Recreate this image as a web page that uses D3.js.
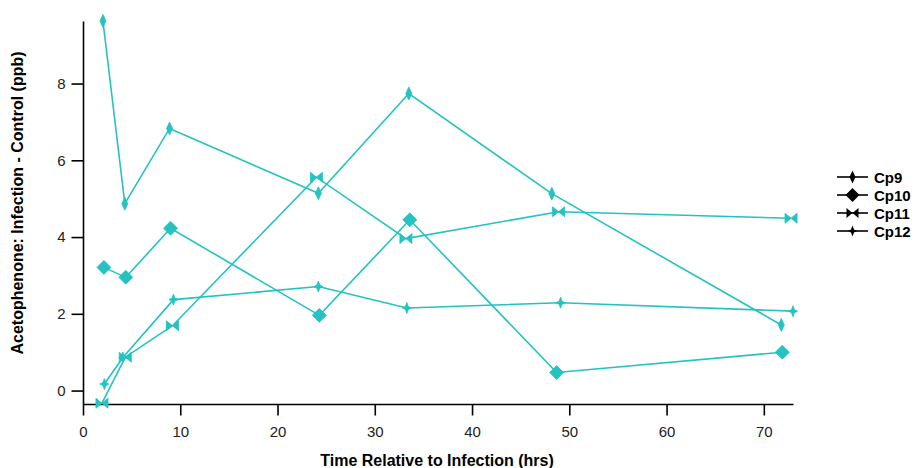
<!DOCTYPE html>
<html>
<head>
<meta charset="utf-8">
<script src="https://cdn.jsdelivr.net/npm/d3@7.9.0/dist/d3.min.js"></script>
<style>
  body { margin: 0; background: #fff; }
  svg { font-family: "Liberation Sans", Arial, sans-serif; }
</style>
</head>
<body>
<svg id="chart" width="917" height="468"></svg>
<script>
// data
const seriesNames = ['Cp9', 'Cp10', 'Cp11', 'Cp12'];
const cp9x = [2.05, 4.3, 8.9, 24.2, 33.5, 48.2, 71.8];
const cp9y = [9.63, 4.87, 6.83, 5.14, 7.74, 5.13, 1.71];
const cp10x = [2.15, 4.4, 9.0, 24.3, 33.6, 48.7, 71.9];
const cp10y = [3.21, 2.95, 4.23, 1.96, 4.45, 0.47, 1.0];
const cp11x = [1.95, 4.35, 9.2, 24.0, 33.2, 48.9, 72.8];
const cp11y = [-0.33, 0.87, 1.69, 5.56, 3.96, 4.66, 4.49];
const cp12x = [2.2, 4.1, 9.3, 24.2, 33.3, 49.1, 73.0];
const cp12y = [0.17, 0.86, 2.37, 2.71, 2.15, 2.29, 2.07];
const xTicks = [0, 10, 20, 30, 40, 50, 60, 70];
const yTicks = [0, 2, 4, 6, 8];

const teal = '#22c3c0';

// marker shapes (centered at 0,0)
const shapes = {
  Cp9: 'M0,-6.5 L3,0 L0,6.5 L-3,0 Z',
  Cp10: 'M0,-7 L7,0 L0,7 L-7,0 Z',
  Cp11: 'M-6,-5 L0,0 L-6,5 Z M6,-5 L0,0 L6,5 Z',
  Cp12: 'M0,-5.5 L1.5,-1.5 L4.5,0 L1.5,1.5 L0,5.5 L-1.5,1.5 L-4.5,0 L-1.5,-1.5 Z'
};

const series = [
  { name: 'Cp9', xs: cp9x, ys: cp9y },
  { name: 'Cp10', xs: cp10x, ys: cp10y },
  { name: 'Cp11', xs: cp11x, ys: cp11y },
  { name: 'Cp12', xs: cp12x, ys: cp12y }
];

const svg = d3.select('#chart');
const mLeft = 83, mRight = 793, mTop = 21, mBottom = 404;

const x = d3.scaleLinear().domain([0, 73]).range([mLeft, mRight]);
const y = d3.scaleLinear().domain([-0.35, 9.63]).range([mBottom, mTop]);

// axes
const xAxis = svg.append('g')
  .attr('transform', `translate(0,${mBottom})`)
  .call(d3.axisBottom(x).tickValues(xTicks).tickSize(11.5).tickPadding(11).tickSizeOuter(0));
const yAxis = svg.append('g')
  .attr('transform', `translate(${mLeft},0)`)
  .call(d3.axisLeft(y).tickValues(yTicks).tickSize(11.5).tickPadding(6).tickSizeOuter(0));

[xAxis, yAxis].forEach(a => {
  a.select('.domain').attr('stroke', '#000').attr('stroke-width', 1.6);
  a.selectAll('.tick line').attr('stroke', '#000').attr('stroke-width', 1.6);
  a.selectAll('.tick text').attr('fill', '#222').style('font-size', '15px')
    .style('font-family', '"Liberation Sans", Arial, sans-serif');
});

// labels
svg.append('text')
  .attr('x', 437).attr('y', 466)
  .attr('text-anchor', 'middle')
  .style('font-size', '16px').style('font-weight', 'bold')
  .text('Time Relative to Infection (hrs)');

svg.append('text')
  .attr('transform', 'translate(23,203) rotate(-90)')
  .attr('text-anchor', 'middle')
  .style('font-size', '16px').style('font-weight', 'bold')
  .text('Acetophenone: Infection - Control (ppb)');

// lines + markers
const line = d3.line().x(d => x(d[0])).y(d => y(d[1]));

series.forEach(s => {
  const pts = s.xs.map((v, i) => [v, s.ys[i]]);
  svg.append('path')
    .datum(pts)
    .attr('d', line)
    .attr('fill', 'none')
    .attr('stroke', teal)
    .attr('stroke-width', 1.6);

  svg.append('g').selectAll('path')
    .data(pts)
    .enter()
    .append('path')
    .attr('d', shapes[s.name])
    .attr('transform', d => `translate(${x(d[0])},${y(d[1])})`)
    .attr('fill', teal)
    .attr('stroke', teal)
    .attr('stroke-width', 0.8);
});

// legend
const legend = svg.append('g').attr('transform', 'translate(837,177)');
seriesNames.forEach((name, i) => {
  const g = legend.append('g').attr('transform', `translate(0,${i * 18})`);
  g.append('line')
    .attr('x1', 0).attr('x2', 31).attr('y1', 0).attr('y2', 0)
    .attr('stroke', '#000').attr('stroke-width', 1.6);
  g.append('path')
    .attr('d', shapes[name])
    .attr('transform', 'translate(15.5,0)')
    .attr('fill', '#000');
  g.append('text')
    .attr('x', 37).attr('y', 5.5)
    .style('font-size', '15px').style('font-weight', 'bold')
    .text(name);
});
</script>
</body>
</html>
